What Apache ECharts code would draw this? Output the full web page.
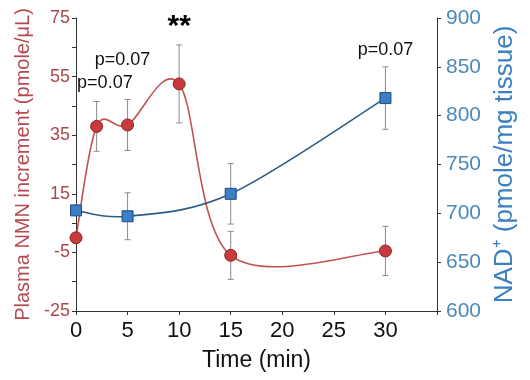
<!DOCTYPE html>
<html><head><meta charset="utf-8">
<script src="https://cdn.jsdelivr.net/npm/echarts@6/dist/echarts.min.js"></script>
<style>html,body{margin:0;padding:0;background:#fff}#c{width:530px;height:380px}</style>
</head><body><div id="c"></div>
<script>
// ---- data ----
const nmnTime = [0, 2, 5, 10, 15, 30];
const nmnValue = [0, 38, 38.5, 52.5, -6, -4.5];
const nmnErr = [0, 8.5, 8.7, 13.3, 8.2, 8.4];
const nadTime = [0, 5, 15, 30];
const nadValue = [703, 697, 720, 818];
const nadErr = [0, 24, 31, 32];
const xTicks = [0, 5, 10, 15, 20, 25, 30];
const annX = [2.8, 4.5, 10, 30];
const annY = [52.8, 60.7, 71.9, 64.1];
const annText = ['p=0.07', 'p=0.07', '**', 'p=0.07'];

const NARROW = '"Liberation Sans Narrow","Arial Narrow","Liberation Sans",Arial,sans-serif';
const SANS = '"Liberation Sans",Arial,Helvetica,sans-serif';
const RED_TXT = '#a9484e', BLUE_TXT = '#4a89bb';

function errSeries(times, vals, errs, yIdx) {
  return {
    type: 'custom', xAxisIndex: 0, yAxisIndex: yIdx, z: 1, silent: true,
    data: times.map((t, i) => [t, vals[i], errs[i]]),
    renderItem: function (params, api) {
      const t = api.value(0), v = api.value(1), e = api.value(2);
      if (!e) return null;
      const top = api.coord([t, v + e]), bot = api.coord([t, v - e]);
      const w = 3;
      const st = { stroke: '#8a8a8a', lineWidth: 1 };
      return { type: 'group', children: [
        { type: 'line', shape: { x1: top[0], y1: top[1], x2: bot[0], y2: bot[1] }, style: st },
        { type: 'line', shape: { x1: top[0] - w, y1: top[1], x2: top[0] + w, y2: top[1] }, style: st },
        { type: 'line', shape: { x1: bot[0] - w, y1: bot[1], x2: bot[0] + w, y2: bot[1] }, style: st }
      ]};
    }
  };
}

// smooth curve through the points (Catmull-Rom spline in pixel space)
function curveSeries(times, vals, yIdx, color) {
  return {
    type: 'custom', xAxisIndex: 0, yAxisIndex: yIdx, z: 2, silent: true,
    data: times.map((t, i) => [t, vals[i]]),
    renderItem: function (params, api) {
      if (params.dataIndex !== 0) return null;
      const P = times.map((t, i) => api.coord([t, vals[i]]));
      const n = P.length, kids = [];
      for (let i = 0; i < n - 1; i++) {
        const p0 = P[Math.max(0, i - 1)], p1 = P[i], p2 = P[i + 1], p3 = P[Math.min(n - 1, i + 2)];
        kids.push({ type: 'bezierCurve', shape: {
          x1: p1[0], y1: p1[1], x2: p2[0], y2: p2[1],
          cpx1: p1[0] + (p2[0] - p0[0]) / 6, cpy1: p1[1] + (p2[1] - p0[1]) / 6,
          cpx2: p2[0] - (p3[0] - p1[0]) / 6, cpy2: p2[1] - (p3[1] - p1[1]) / 6 },
          style: { stroke: color, lineWidth: 1.6, fill: null } });
      }
      return { type: 'group', children: kids };
    }
  };
}

const chart = echarts.init(document.getElementById('c'), null, { renderer: 'canvas' });
chart.setOption({
  animation: false,
  backgroundColor: '#fff',
  grid: { left: 76, right: 93, top: 18, bottom: 69 },
  xAxis: {
    type: 'value', min: 0, max: 35, interval: 5,
    name: 'Time (min)', nameLocation: 'middle', nameGap: 38,
    nameTextStyle: { fontFamily: SANS, fontSize: 23, color: '#111' },
    axisLine: { onZero: false, lineStyle: { color: '#333', width: 1 } },
    axisTick: { length: 4, lineStyle: { color: '#333' } },
    splitLine: { show: false },
    axisLabel: { fontFamily: NARROW, fontSize: 22, color: '#111', margin: 9,
      formatter: v => xTicks.indexOf(v) >= 0 ? String(v) : '' }
  },
  yAxis: [{
    type: 'value', min: -25, max: 75, interval: 20, position: 'left',
    name: 'Plasma NMN increment (pmole/\u03BCL)', nameLocation: 'middle', nameGap: 42,
    nameTextStyle: { fontFamily: SANS, fontSize: 20, color: '#b24a50' },
    axisLine: { show: true, onZero: false, lineStyle: { color: '#333', width: 1 } },
    axisTick: { show: true, length: 4, lineStyle: { color: '#333' } },
    minorTick: { show: true, splitNumber: 2, length: 4, lineStyle: { color: '#333' } },
    splitLine: { show: false },
    axisLabel: { fontFamily: SANS, fontSize: 18, color: RED_TXT, margin: 6 }
  }, {
    type: 'value', min: 600, max: 900, interval: 50, position: 'right',
    name: 'NAD\u207A (pmole/mg tissue)', nameLocation: 'middle', nameGap: 52,
    nameTextStyle: { fontFamily: SANS, fontSize: 26, color: '#3a80c2' },
    axisLine: { show: true, onZero: false, lineStyle: { color: '#333', width: 1 } },
    axisTick: { show: true, length: 4, lineStyle: { color: '#333' } },
    splitLine: { show: false },
    axisLabel: { fontFamily: NARROW, fontSize: 21, color: BLUE_TXT, margin: 9 }
  }],
  series: [
    errSeries(nmnTime, nmnValue, nmnErr, 0),
    errSeries(nadTime, nadValue, nadErr, 1),
    curveSeries(nmnTime, nmnValue, 0, '#c25352'),
    curveSeries(nadTime, nadValue, 1, '#2b5d86'),
    {
      type: 'scatter', xAxisIndex: 0, yAxisIndex: 0, z: 4, silent: true,
      data: nmnTime.map((t, i) => [t, nmnValue[i]]),
      symbol: 'circle', symbolSize: 12,
      itemStyle: { color: '#c93a3c', borderColor: '#8a2426', borderWidth: 1, opacity: 1 }
    },
    {
      type: 'scatter', xAxisIndex: 0, yAxisIndex: 1, z: 4, silent: true,
      data: nadTime.map((t, i) => [t, nadValue[i]]),
      symbol: 'rect', symbolSize: 11,
      itemStyle: { color: '#3b7fc6', borderColor: '#1f4c7a', borderWidth: 1, opacity: 1 }
    },
    {
      type: 'scatter', xAxisIndex: 0, yAxisIndex: 0, z: 5, symbolSize: 0, silent: true,
      itemStyle: { opacity: 1 },
      data: annX.map((x, i) => ({ value: [x, annY[i]], name: annText[i],
        label: annText[i] === '**' ? { fontSize: 30, fontWeight: 'bold', fontFamily: SANS, color: '#000' } : {} })),
      label: {
        show: true, position: 'inside', formatter: p => p.name, opacity: 1,
        fontFamily: NARROW, fontSize: 18, color: '#111'
      }
    }
  ]
});
</script></body></html>
